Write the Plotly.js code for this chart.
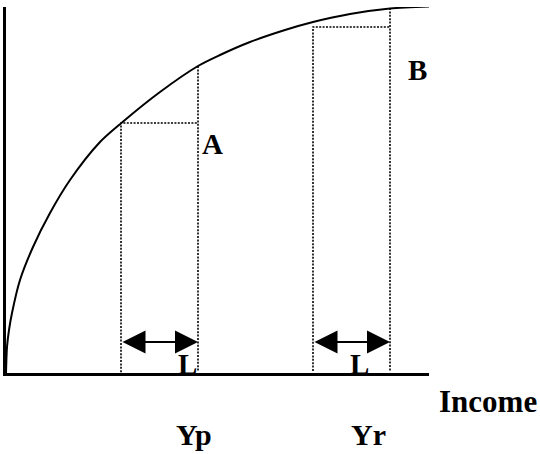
<!DOCTYPE html>
<html>
<head>
<meta charset="utf-8">
<script src="https://cdn.plot.ly/plotly-3.0.1.min.js"></script>
<style>html,body{margin:0;padding:0;background:#fff;}#chart{width:540px;height:454px;}</style>
</head>
<body>
<div id="chart"></div>
<script>
// Utility curve (income, utility)
const curveIncome  = [0, 1, 3, 6, 14, 27, 44, 64, 94, 115.7, 154, 192, 214, 244, 279, 307, 344, 384, 423];
const curveUtility = [0, 26, 43, 60, 93, 126, 160, 193, 231, 250.3, 281, 307, 318, 331, 343, 351, 359, 364.5, 366.5];

// Two income intervals of width L (poor: A, rich: B)
const incomeLow  = [115, 307];
const incomeHigh = [192, 384];
const utilAtLow  = [250, 346];
const utilAtHigh = [307, 365];
const lowLineBottom = [-6, 2];
const highLineBottom = [2, 2];
const arrowLevel = 31;

const intervalLabel = 'L';
const intervalLabelX = [181.5, 353];
const intervalLabelY = 9.5;
const pointLabels = ['A', 'B'];
const pointLabelX = [206.5, 411.5];
const pointLabelY = [229, 303];
const incomeLabels = ['Yp', 'Yr'];
const incomeLabelX = [187.5, 362.5];
const incomeLabelY = -61;
const axisLabel = 'Income';
const axisLabelX = 482;
const axisLabelY = -28;

const X_RANGE = [0, 423];
const Y_RANGE = [0, 366];
const px = (v) => (v - X_RANGE[0]) / (X_RANGE[1] - X_RANGE[0]);
const py = (v) => (v - Y_RANGE[0]) / (Y_RANGE[1] - Y_RANGE[0]);

const traces = [];
traces.push({
  x: curveIncome, y: curveUtility, mode: 'lines', type: 'scatter',
  line: {color: '#000', width: 2, shape: 'spline', smoothing: 0.8},
  hoverinfo: 'skip', showlegend: false
});
for (let i = 0; i < incomeLow.length; i++) {
  traces.push({
    x: [incomeLow[i], incomeLow[i], incomeHigh[i], null, incomeHigh[i], incomeHigh[i]],
    y: [lowLineBottom[i], utilAtLow[i], utilAtLow[i], null, utilAtHigh[i], highLineBottom[i]],
    mode: 'lines', type: 'scatter', cliponaxis: false,
    line: {color: '#000', width: 1.6, dash: '2px,1.4px'},
    hoverinfo: 'skip', showlegend: false
  });
}

const font = (s) => ({family: 'Liberation Serif, Times New Roman, serif', size: s, color: '#000'});
const label = (x, y, text, size) => ({
  x: px(x), y: py(y), xref: 'paper', yref: 'paper', xanchor: 'center', yanchor: 'middle',
  text: '<b>' + text + '</b>', showarrow: false, font: font(size || 29)
});
const annotations = [];
for (let i = 0; i < incomeLow.length; i++) {
  annotations.push({
    x: incomeHigh[i], y: arrowLevel, ax: incomeLow[i], ay: arrowLevel,
    xref: 'x', yref: 'y', axref: 'x', ayref: 'y', text: '',
    showarrow: true, arrowside: 'end+start', arrowhead: 2, startarrowhead: 2,
    arrowsize: 2.3, startarrowsize: 2.3, arrowwidth: 2, arrowcolor: '#000'
  });
  annotations.push(label(intervalLabelX[i], intervalLabelY, intervalLabel));
  annotations.push(label(pointLabelX[i], pointLabelY[i], pointLabels[i]));
  annotations.push(label(incomeLabelX[i], incomeLabelY, incomeLabels[i], 30));
}
annotations.push(label(axisLabelX, axisLabelY, axisLabel, 31));

const ax = {
  showgrid: false, zeroline: false, showticklabels: false, ticks: '',
  showline: true, linecolor: '#000', linewidth: 3, fixedrange: true, automargin: false
};
const layout = {
  width: 540, height: 454, autosize: false,
  margin: {l: 6, r: 111, t: 7, b: 81, pad: 0, autoexpand: false},
  paper_bgcolor: '#fff', plot_bgcolor: '#fff',
  xaxis: Object.assign({}, ax, {range: X_RANGE}),
  yaxis: Object.assign({}, ax, {range: Y_RANGE}),
  annotations: annotations,
  showlegend: false
};
Plotly.newPlot('chart', traces, layout, {staticPlot: true, displayModeBar: false});
</script>
</body>
</html>
